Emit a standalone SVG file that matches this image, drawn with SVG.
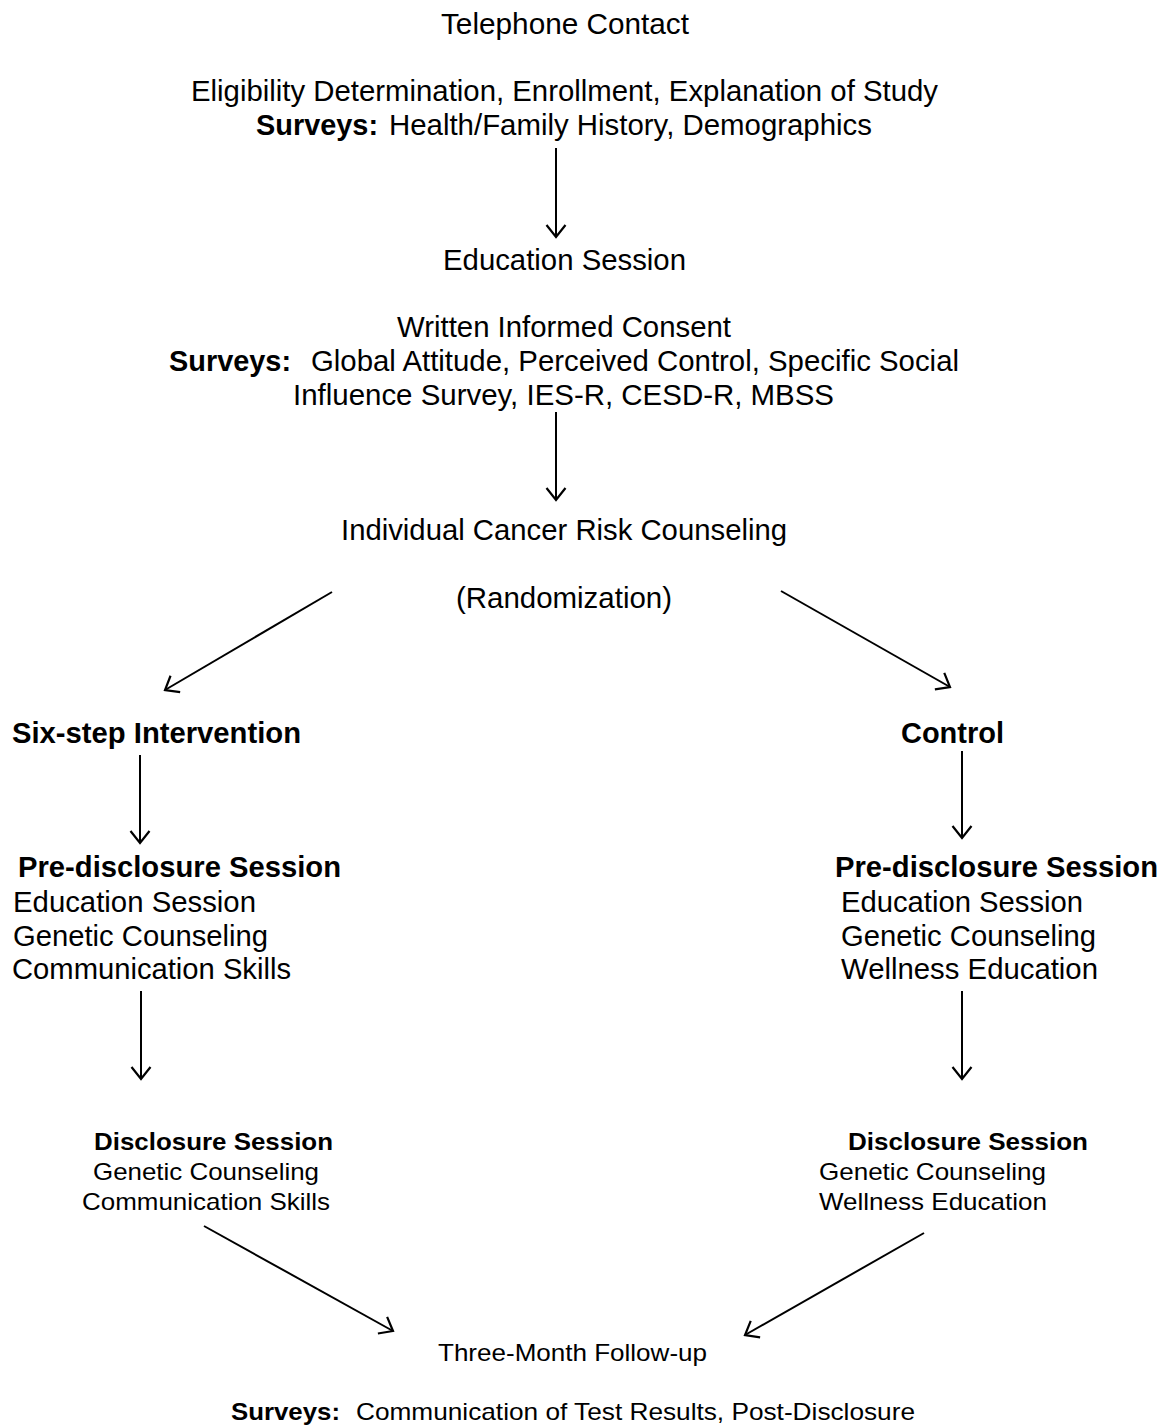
<svg xmlns="http://www.w3.org/2000/svg" width="1173" height="1428" viewBox="0 0 1173 1428">
<style>
text { font-family: "Liberation Sans", Arial, sans-serif; fill: #000; }
.t { font-size: 29px; }
.c { text-anchor: middle; }
.b { font-weight: bold; }
.s { font-size: 24px; }
.conn line { stroke: #000; stroke-width: 2; marker-end: url(#ah); }
</style>
<defs>
<marker id="ah" markerUnits="userSpaceOnUse" viewBox="-14 -12 16 24" markerWidth="16" markerHeight="24" refX="0" refY="0" orient="auto">
<path d="M-12,-9.5 L0,0 L-12,9.5" fill="none" stroke="#000" stroke-width="2.2"/>
</marker>
</defs>
<rect width="1173" height="1428" fill="#fff"/>

<g id="telephone">
<text class="t c" x="565" y="34" textLength="248" lengthAdjust="spacingAndGlyphs">Telephone Contact</text>
<text class="t c" x="564.5" y="101" textLength="747" lengthAdjust="spacingAndGlyphs">Eligibility Determination, Enrollment, Explanation of Study</text>
<text class="t" x="256" y="135" textLength="122" lengthAdjust="spacingAndGlyphs" font-weight="bold">Surveys:</text>
<text class="t" x="389" y="135" textLength="483" lengthAdjust="spacingAndGlyphs">Health/Family History, Demographics</text>
</g>

<g id="education">
<text class="t c" x="564.5" y="270" textLength="243" lengthAdjust="spacingAndGlyphs">Education Session</text>
<text class="t c" x="564" y="337" textLength="334" lengthAdjust="spacingAndGlyphs">Written Informed Consent</text>
<text class="t" x="169" y="371" textLength="122" lengthAdjust="spacingAndGlyphs" font-weight="bold">Surveys:</text>
<text class="t" x="311" y="371" textLength="648" lengthAdjust="spacingAndGlyphs">Global Attitude, Perceived Control, Specific Social</text>
<text class="t c" x="563.5" y="405" textLength="541" lengthAdjust="spacingAndGlyphs">Influence Survey, IES-R, CESD-R, MBSS</text>
</g>

<g id="counseling">
<text class="t c" x="564" y="540" textLength="446" lengthAdjust="spacingAndGlyphs">Individual Cancer Risk Counseling</text>
<text class="t c" x="564" y="608" textLength="216" lengthAdjust="spacingAndGlyphs">(Randomization)</text>
</g>

<g id="intervention">
<text class="t b" x="12" y="743" textLength="289" lengthAdjust="spacingAndGlyphs">Six-step Intervention</text>
</g>

<g id="control">
<text class="t b" x="901" y="743" textLength="103" lengthAdjust="spacingAndGlyphs">Control</text>
</g>

<g id="predisclosure-left">
<text class="t b" x="18" y="877" textLength="323" lengthAdjust="spacingAndGlyphs">Pre-disclosure Session</text>
<text class="t" x="13" y="912" textLength="243" lengthAdjust="spacingAndGlyphs">Education Session</text>
<text class="t" x="13" y="946" textLength="255" lengthAdjust="spacingAndGlyphs">Genetic Counseling</text>
<text class="t" x="12" y="979" textLength="279" lengthAdjust="spacingAndGlyphs">Communication Skills</text>
</g>

<g id="predisclosure-right">
<text class="t b" x="835" y="877" textLength="323" lengthAdjust="spacingAndGlyphs">Pre-disclosure Session</text>
<text class="t" x="841" y="912" textLength="242" lengthAdjust="spacingAndGlyphs">Education Session</text>
<text class="t" x="841" y="946" textLength="255" lengthAdjust="spacingAndGlyphs">Genetic Counseling</text>
<text class="t" x="841" y="979" textLength="257" lengthAdjust="spacingAndGlyphs">Wellness Education</text>
</g>

<g id="disclosure-left">
<text class="s b" x="94" y="1150" textLength="239" lengthAdjust="spacingAndGlyphs">Disclosure Session</text>
<text class="s" x="93" y="1180" textLength="226" lengthAdjust="spacingAndGlyphs">Genetic Counseling</text>
<text class="s" x="82" y="1210" textLength="248" lengthAdjust="spacingAndGlyphs">Communication Skills</text>
</g>

<g id="disclosure-right">
<text class="s b" x="848" y="1150" textLength="240" lengthAdjust="spacingAndGlyphs">Disclosure Session</text>
<text class="s" x="819" y="1180" textLength="227" lengthAdjust="spacingAndGlyphs">Genetic Counseling</text>
<text class="s" x="819" y="1210" textLength="228" lengthAdjust="spacingAndGlyphs">Wellness Education</text>
</g>

<g id="followup">
<text class="s c" x="572.5" y="1361" textLength="269" lengthAdjust="spacingAndGlyphs">Three-Month Follow-up</text>
<text class="s b" x="231" y="1420" textLength="109" lengthAdjust="spacingAndGlyphs">Surveys:</text>
<text class="s" x="356" y="1420" textLength="559" lengthAdjust="spacingAndGlyphs">Communication of Test Results, Post-Disclosure</text>
</g>

<g id="connectors" class="conn">
<line x1="556" y1="148" x2="556" y2="237"/>
<line x1="556" y1="412" x2="556" y2="500"/>
<line x1="332" y1="592" x2="165" y2="690"/>
<line x1="781" y1="591" x2="950" y2="687"/>
<line x1="140" y1="755" x2="140" y2="843"/>
<line x1="962" y1="751" x2="962" y2="838"/>
<line x1="141" y1="991" x2="141" y2="1079"/>
<line x1="962" y1="991" x2="962" y2="1079"/>
<line x1="204" y1="1226" x2="393" y2="1331"/>
<line x1="924" y1="1233" x2="745" y2="1335"/>
</g>
</svg>
